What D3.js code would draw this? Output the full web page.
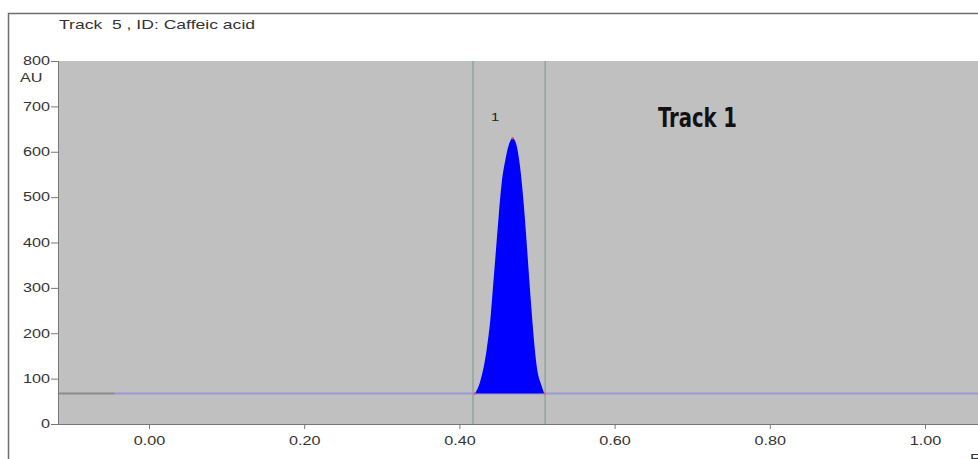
<!DOCTYPE html>
<html>
<head>
<meta charset="utf-8">
<script src="https://cdn.jsdelivr.net/npm/d3@7"></script>
<style>
  html, body { margin: 0; padding: 0; background: #fff; }
  svg { display: block; }
</style>
</head>
<body>
<div id="chart"></div>
<script>
// chart size
const width = 978;
const height = 459;

// axis ticks
const yTicks = [0, 100, 200, 300, 400, 500, 600, 700, 800];
const xTicks = [0.0, 0.2, 0.4, 0.6, 0.8, 1.0];

// peak profile (Rf, AU)
const peakRf = [0.420, 0.4265, 0.4352, 0.4403, 0.4437, 0.4472, 0.4506, 0.4545, 0.4592, 0.4643, 0.4687,
                0.4729, 0.4781, 0.4824, 0.4858, 0.4888, 0.4919, 0.4952, 0.4996, 0.5060, 0.5094];
const peakAU = [67, 92, 165, 238, 311, 385, 458, 531, 582, 619, 630,
                619, 568, 495, 421, 348, 275, 202, 128, 84, 67];

// baseline level and integration limits
const baselineAU = 67;
const baselineStart = -0.044;   // grey part before this, blue after
const peakLimits = [0.4175, 0.5105];
const peakLabel = "1";

// the source image is stretched sideways, so its labels are wide
const stretch = 1.35;
const labelFont = "Arial, 'Liberation Sans', sans-serif";

const svg = d3.select("#chart").append("svg")
    .attr("width", width)
    .attr("height", height)
    .style("font-family", labelFont);

const x = d3.scaleLinear().domain([0, 1]).range([149, 925]);
const y = d3.scaleLinear().domain([0, 800]).range([424, 61]);

const plotLeft = 58;
const plotRight = 990;

// outer frame
svg.append("path")
    .attr("d", `M8.5,${height} V13.5 H${width}`)
    .attr("fill", "none")
    .attr("stroke", "#6e6e6e")
    .attr("stroke-width", 1.5);

svg.append("text")
    .attr("class", "wide")
    .attr("x", 59)
    .attr("y", 29)
    .attr("font-size", 13)
    .attr("fill", "#333")
    .attr("xml:space", "preserve")
    .text("Track  5 , ID: Caffeic acid");

// plot background
svg.append("rect")
    .attr("x", plotLeft)
    .attr("y", y(800))
    .attr("width", plotRight - plotLeft)
    .attr("height", y(0) - y(800))
    .attr("fill", "#c0c0c0");

// integration limit lines
svg.append("g")
  .selectAll("line")
  .data(peakLimits)
  .join("line")
    .attr("x1", d => x(d))
    .attr("x2", d => x(d))
    .attr("y1", y(800))
    .attr("y2", y(0))
    .attr("stroke", "#7fa09c")
    .attr("stroke-width", 1.2);

// baseline
svg.append("line")
    .attr("x1", plotLeft)
    .attr("x2", x(baselineStart))
    .attr("y1", y(baselineAU))
    .attr("y2", y(baselineAU))
    .attr("stroke", "#8a8a8a")
    .attr("stroke-width", 2);

svg.append("line")
    .attr("x1", x(baselineStart))
    .attr("x2", plotRight)
    .attr("y1", y(baselineAU))
    .attr("y2", y(baselineAU))
    .attr("stroke", "#9a9ad6")
    .attr("stroke-width", 2);

// peak
const peak = peakRf.map((r, i) => [r, peakAU[i]]);
const area = d3.area()
    .x(d => x(d[0]))
    .y0(y(baselineAU))
    .y1(d => y(d[1]))
    .curve(d3.curveMonotoneX);

svg.append("path")
    .datum(peak)
    .attr("d", area)
    .attr("fill", "#0000ff");

// small red markers at start, apex and end
svg.append("g")
  .selectAll("circle")
  .data([peak[0], peak[10], peak[peak.length - 1]])
  .join("circle")
    .attr("cx", d => x(d[0]))
    .attr("cy", d => y(d[1]))
    .attr("r", 1.2)
    .attr("fill", "#e05050");

svg.append("text")
    .attr("class", "wide")
    .attr("x", 491)
    .attr("y", 121)
    .attr("font-size", 11)
    .attr("fill", "#222")
    .text(peakLabel);

svg.append("text")
    .attr("x", 658)
    .attr("y", 127)
    .attr("font-size", 27)
    .attr("font-weight", "bold")
    .attr("font-family", "'Liberation Sans Narrow', 'DejaVu Sans Condensed', sans-serif")
    .attr("textLength", 79)
    .attr("lengthAdjust", "spacingAndGlyphs")
    .attr("fill", "#111")
    .text("Track 1");

// y axis
const yAxis = svg.append("g")
    .attr("transform", `translate(${plotLeft},0)`)
    .call(d3.axisLeft(y).tickValues(yTicks).tickSize(7).tickPadding(1).tickFormat(d3.format("d")));

yAxis.select(".domain").attr("stroke", "#777");
yAxis.selectAll(".tick line").attr("stroke", "#777");
yAxis.selectAll(".tick text")
    .attr("class", "wide")
    .attr("font-size", 12)
    .attr("fill", "#333")
    .attr("font-family", labelFont);

svg.append("text")
    .attr("class", "wide")
    .attr("x", 20)
    .attr("y", 82)
    .attr("font-size", 12)
    .attr("fill", "#333")
    .text("AU");

// x axis
const xAxis = svg.append("g")
    .attr("transform", `translate(0,${y(0)})`)
    .call(d3.axisBottom(x).tickValues(xTicks).tickSize(5).tickPadding(7).tickFormat(d3.format(".2f")));

xAxis.select(".domain")
    .attr("d", `M${plotLeft},0.5H${plotRight}`)
    .attr("stroke", "#777");
xAxis.selectAll(".tick line").attr("stroke", "#777");
xAxis.selectAll(".tick text")
    .attr("class", "wide")
    .attr("font-size", 12)
    .attr("fill", "#333")
    .attr("font-family", labelFont);

svg.append("text")
    .attr("class", "wide")
    .attr("x", 970)
    .attr("y", 463)
    .attr("font-size", 12)
    .attr("fill", "#333")
    .text("Rf");

// widen the labels to match the stretched source
svg.selectAll("text.wide").each(function() {
  const w = this.getComputedTextLength();
  d3.select(this)
      .attr("textLength", w * stretch)
      .attr("lengthAdjust", "spacingAndGlyphs");
});
</script>
</body>
</html>
